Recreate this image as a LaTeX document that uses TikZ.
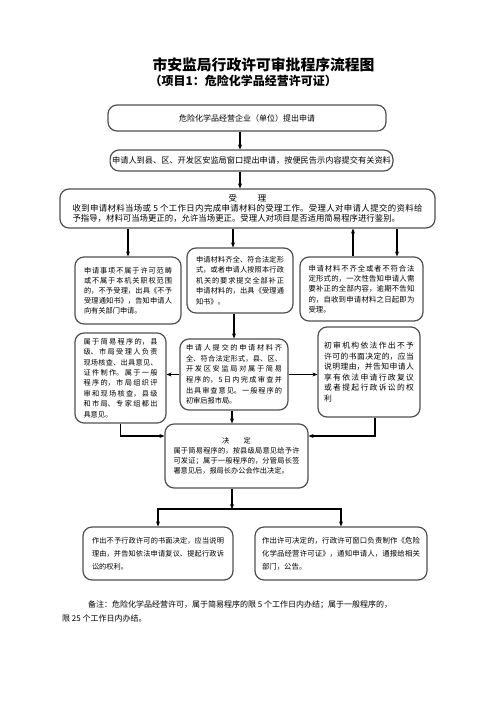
\documentclass[tikz,border=0pt]{standalone}
\usepackage{fontspec}
\setmainfont{Noto Sans CJK SC}
\usetikzlibrary{arrows.meta}
\XeTeXlinebreaklocale "zh"
\XeTeXlinebreakskip=0pt plus 1pt
\definecolor{edge}{HTML}{505050}

\begin{document}
\begin{tikzpicture}[x=1pt,y=-1pt,
  stage/.style={draw=edge,line width=1.2pt,rounded corners=9pt,inner sep=2pt,align=justify},
  flow/.style={line width=1.1pt,-{Stealth[length=5pt,width=4pt]}}]
  \useasboundingbox (0,0) rectangle (496,702);
  \node[font={\bfseries\fontsize{14.8}{16}\selectfont}] (title) at (263.5,65) {市安监局行政许可审批程序流程图};
  \node[font={\bfseries\fontsize{12}{14}\selectfont},anchor=west] (subtitle) at (146,81) {（项目1：危险化学品经营许可证）};

  \node[stage,align=center,minimum width=278,minimum height=26,font={\fontsize{8}{10}\selectfont}] (apply) at (247,118)
    {危险化学品经营企业（单位）提出申请};
  \node[stage,align=center,minimum width=279,minimum height=21,font={\fontsize{8.2}{10}\selectfont}] (window) at (251.5,160.5)
    {申请人到县、区、开发区安监局窗口提出申请，按便民告示内容提交有关资料};
  \node[stage,minimum width=375,minimum height=39,text width=350,font={\fontsize{8.4}{9.6}\selectfont}] (accept) at (247.5,208.5)
    {\makebox[\linewidth]{受\hspace{2.5em}理}\\
     收到申请材料当场或 5 个工作日内完成申请材料的受理工作。受理人对申请人提交的资料给\linebreak
     予指导，材料可当场更正的，允许当场更正。受理人对项目是否适用简易程序进行鉴别。};

  \node[stage,minimum width=106,minimum height=67,text width=88,font={\fontsize{7.2}{10}\selectfont}] (reject) at (128,290.5)
    {申请事项不属于许可范畴\linebreak 或不属于本机关职权范围\linebreak 的，不予受理，出具《不予\linebreak
     受理通知书》，告知申请人\linebreak 向有关部门申请。};
  \node[stage,minimum width=106,minimum height=65,text width=88,font={\fontsize{7.2}{10.4}\selectfont}] (complete) at (240,280.5)
    {申请材料齐全、符合法定形\linebreak 式，或者申请人按照本行政\linebreak 机关的要求提交全部补正\linebreak
     申请材料的，出具《受理通\linebreak 知书》。};
  \node[stage,minimum width=123,minimum height=64,text width=106,font={\fontsize{7.4}{10.3}\selectfont}] (supplement) at (361.5,289)
    {申请材料不齐全或者不符合法\linebreak 定形式的，一次性告知申请人需\linebreak 要补正的全部内容，逾期不告知\linebreak
     的，自收到申请材料之日起即为\linebreak 受理。};

  \node[stage,minimum width=91,minimum height=90,text width=74,font={\fontsize{7.2}{10.4}\selectfont}] (verify) at (120.5,378)
    {属于简易程序的，县\linebreak 级、市局受理人负责\linebreak 现场核查、出具意见、\linebreak 证件制作。属于一般\linebreak
     程序的，市局组织评\linebreak 审和现场核查，县级\linebreak 和市局、专家组都出\linebreak 具意见。};
  \node[stage,minimum width=108,minimum height=71,text width=96,font={\fontsize{7.2}{10.6}\selectfont}] (review) at (234,374.5)
    {申请人提交的申请材料齐\linebreak 全、符合法定形式，县、区、\linebreak 开发区安监局对属于简易\linebreak
     程序的，5日内完成审查并\linebreak 出具审查意见。一般程序的\linebreak 初审后报市局。};
  \node[stage,minimum width=102,minimum height=90,text width=90,font={\fontsize{7.8}{10.6}\selectfont}] (deny) at (369,372)
    {初审机构依法作出不予\linebreak 许可的书面决定的，应当\linebreak 说明理由，并告知申请人\linebreak
     享有依法申请行政复议\linebreak 或者提起行政诉讼的权\linebreak 利\par\vspace*{13pt}};

  \node[stage,minimum width=143,minimum height=64,text width=126,font={\fontsize{7.2}{10}\selectfont}] (decide) at (236.5,456)
    {\makebox[\linewidth]{决\hspace{2em}定}\\
     属于简易程序的，按县级局意见给予许\linebreak 可发证；属于一般程序的，分管局长签\linebreak 署意见后，报局长办公会作出决定。\par\vspace*{8pt}};

  \node[stage,minimum width=150,minimum height=53,text width=132,font={\fontsize{7.2}{13}\selectfont}] (refuse) at (158,553.5)
    {作出不予行政许可的书面决定，应当说明\linebreak 理由，并告知依法申请复议、提起行政诉\linebreak 讼的权利。};
  \node[stage,minimum width=172,minimum height=53,text width=158,font={\fontsize{7.4}{13}\selectfont}] (grant) at (341,553.5)
    {作出许可决定的，行政许可窗口负责制作《危险\linebreak 化学品经营许可证》，通知申请人，通报给相关\linebreak 部门，公告。};

  \node[anchor=west,inner sep=0pt,align=left,font={\fontsize{8}{14}\selectfont}] (note) at (62,611.5)
    {\hspace*{26pt}备注：危险化学品经营许可，属于简易程序的限 5 个工作日内办结；属于一般程序的，\\限 25 个工作日内办结。};

  % connectors
  \draw[flow] ([xshift=-7]apply.south) -- ([xshift=-7]apply.south |- window.north);
  \draw[flow] ([xshift=-11.5]window.south) -- ([xshift=-11.5]window.south |- accept.north);
  \draw[flow] (accept.south -| reject.north) -- (reject.north);
  \draw[flow] ([xshift=-7]complete.north |- accept.south) -- ([xshift=-7]complete.north);
  \draw[flow] ([xshift=-8.5]supplement.north) -- ([xshift=-8.5]supplement.north |- accept.south);
  \draw[flow] ([xshift=35.5]supplement.north |- accept.south) -- ([xshift=35.5]supplement.north);
  \draw[flow] (complete.south -| review.north) -- (review.north);
  \draw[flow] (review.west) -- (review.west -| verify.east);
  \draw[flow] (review.east) -- (review.east -| deny.west);
  \draw[flow] ([xshift=-2]review.south) -- ([xshift=-2]review.south |- decide.north);
  \draw[flow] (verify.south) |- ([yshift=20]decide.west);
  \draw[flow] ([xshift=6]deny.south) |- ([yshift=20]decide.east);
  \coordinate (fork) at (232,509);
  \draw[flow] (decide.south -| fork) -- (fork);
  \draw[flow] (fork) -| (refuse.north);
  \draw[flow] (fork) -| (grant.north);
\end{tikzpicture}
\end{document}
